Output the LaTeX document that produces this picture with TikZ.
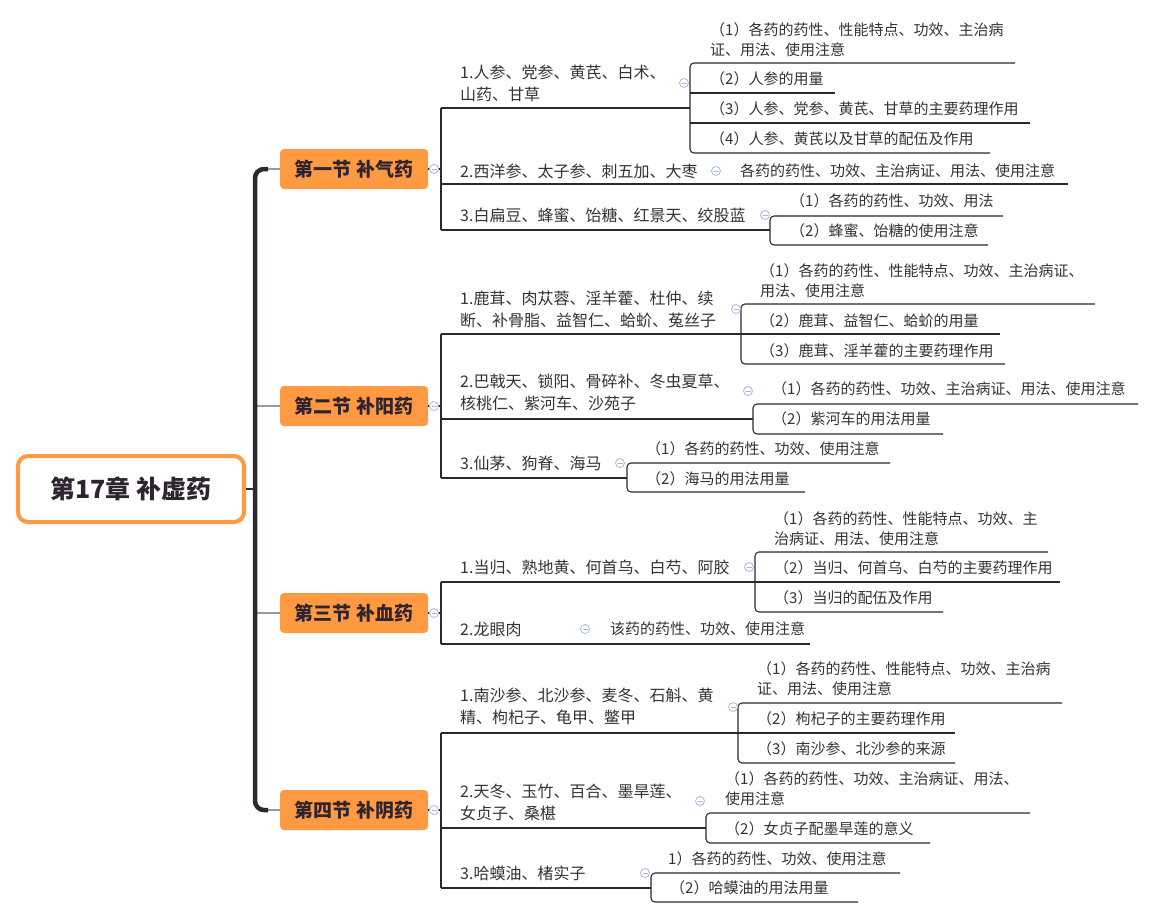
\documentclass[tikz,border=0pt]{standalone}
\usepackage{fontspec}
\newfontfamily\cjk{Noto Sans CJK SC}
\definecolor{orng}{HTML}{FF9A42}
\definecolor{dk}{HTML}{2E2430}
\definecolor{trk}{HTML}{30262F}
\definecolor{stb}{HTML}{9A9A9A}
\definecolor{lc}{HTML}{2A2A2A}
\definecolor{txt}{HTML}{333333}
\definecolor{tg}{HTML}{A9B6DD}
\begin{document}
\begin{tikzpicture}[x=1pt,y=-1pt,
  rootbox/.style={draw=orng,line width=4pt,rounded corners=10pt,fill=white,minimum width=226pt,minimum height=66pt,inner sep=0pt,text=dk,font=\cjk\bfseries\fontsize{25}{30}\selectfont},
  secbox/.style={fill=orng,rounded corners=4pt,minimum width=148pt,minimum height=40pt,inner sep=0pt,text=dk,font=\cjk\bfseries\fontsize{19}{23}\selectfont},
  item/.style={anchor=west,inner sep=0pt,align=left,text=txt,font=\cjk\fontsize{16}{22}\selectfont},
  gci/.style={anchor=west,inner sep=0pt,align=left,text=txt,font=\cjk\fontsize{15}{20}\selectfont},
  ln/.style={draw=lc,line width=1.1pt},
  brk/.style={draw=lc,line width=1.1pt,rounded corners=4pt},
  trunk/.style={draw=trk,line width=4.5pt,rounded corners=9pt},
  stub/.style={draw=stb,line width=2pt},
  tog/.style={circle,draw=tg,fill=white,line width=0.8pt,minimum size=9pt,inner sep=0pt,
    path picture={\draw[tg,line width=0.8pt] ([xshift=2pt]path picture bounding box.west) -- ([xshift=-2pt]path picture bounding box.east);}}
]
\useasboundingbox (0,0) rectangle (1155,919);

% root and sections
\node[rootbox] (root) at (131,489) {第17章 补虚药};
\node[secbox] (s1) at (354,169) {第一节 补气药};
\node[secbox] (s2) at (354,406) {第二节 补阳药};
\node[secbox] (s3) at (354,613) {第三节 补血药};
\node[secbox] (s4) at (354,810) {第四节 补阴药};

\coordinate (tr1) at (255,169);
\coordinate (tr2) at (255,406);
\coordinate (tr3) at (255,613);
\coordinate (tr4) at (255,810);
\coordinate (trr) at (255,489);
\coordinate (tt1) at (268,169);
\coordinate (tt4) at (268,810);

\draw[stub] (tt1) -- (s1.west);
\draw[stub] (tt4) -- (s4.west);
\draw[stub] (tr2) -- (s2.west);
\draw[stub] (tr3) -- (s3.west);
\draw[trunk] (tt1) -- (tr1) -- (tr4) -- (tt4);
\draw[ln] (root.east) -- (trr);

% ===== Section 1 =====
\coordinate (v1t) at (441,108);
\coordinate (v1b) at (441,230);
\coordinate (v1m) at (441,169);
\draw[ln] (s1.east) -- (v1m);
\draw[ln] (v1t) -- (v1b);

\node[item] (c11) at (460,83) {1.人参、党参、黄芪、白术、\\山药、甘草};
\node[item] (c12) at (460,171) {2.西洋参、太子参、刺五加、大枣};
\node[item] (c13) at (460,215) {3.白扁豆、蜂蜜、饴糖、红景天、绞股蓝};

\node[gci] (g111) at (710,39.5) {（1）各药的药性、性能特点、功效、主治病\\证、用法、使用注意};
\node[gci] (g112) at (710,79) {（2）人参的用量};
\node[gci] (g113) at (710,109) {（3）人参、党参、黄芪、甘草的主要药理作用};
\node[gci] (g114) at (710,139) {（4）人参、黄芪以及甘草的配伍及作用};
\node[gci] (g121) at (740,171) {各药的药性、功效、主治病证、用法、使用注意};
\node[gci] (g131) at (790,201) {（1）各药的药性、功效、用法};
\node[gci] (g132) at (790,231) {（2）蜂蜜、饴糖的使用注意};

\coordinate (j11) at (690,108);
\draw[ln] (v1t) -- (j11);
\draw[brk] (1015,63) -- (690,63) -- (690,153) -- (990,153);
\draw[ln] (690,93) -- (835,93);
\draw[ln] (690,123) -- (1030,123);
\draw[ln] (v1m |- 0,184) -- (1068,184);
\coordinate (j13) at (770,230);
\draw[ln] (v1b) -- (j13);
\draw[brk] (1003,216) -- (770,216) -- (770,245) -- (988,245);

\node[tog] (t1) at (434,169) {};
\node[tog] (t11) at (684,83) {};
\node[tog] (t12) at (716,171) {};
\node[tog] (t13) at (765,215) {};

% ===== Section 2 =====
\coordinate (v2t) at (441,334);
\coordinate (v2b) at (441,478);
\coordinate (v2m) at (441,406);
\draw[ln] (s2.east) -- (v2m);
\draw[ln] (v2t) -- (v2b);

\node[item] (c21) at (460,309) {1.鹿茸、肉苁蓉、淫羊藿、杜仲、续\\断、补骨脂、益智仁、蛤蚧、菟丝子};
\node[item] (c22) at (460,392) {2.巴戟天、锁阳、骨碎补、冬虫夏草、\\核桃仁、紫河车、沙苑子};
\node[item] (c23) at (460,463) {3.仙茅、狗脊、海马};

\node[gci] (g211) at (760,281) {（1）各药的药性、性能特点、功效、主治病证、\\用法、使用注意};
\node[gci] (g212) at (760,321) {（2）鹿茸、益智仁、蛤蚧的用量};
\node[gci] (g213) at (760,351) {（3）鹿茸、淫羊藿的主要药理作用};
\node[gci] (g221) at (772,389) {（1）各药的药性、功效、主治病证、用法、使用注意};
\node[gci] (g222) at (772,419) {（2）紫河车的用法用量};
\node[gci] (g231) at (646,449) {（1）各药的药性、功效、使用注意};
\node[gci] (g232) at (646,479) {（2）海马的用法用量};

\coordinate (j21) at (741,334);
\draw[ln] (v2t) -- (1000,334);
\draw[brk] (1095,304) -- (741,304) -- (741,364) -- (1005,364);
\coordinate (j22) at (753,419);
\draw[ln] (441,419) -- (j22);
\draw[brk] (1138,404) -- (753,404) -- (753,434) -- (943,434);
\coordinate (j23) at (627,478);
\draw[ln] (v2b) -- (j23);
\draw[brk] (890,463) -- (627,463) -- (627,492) -- (805,492);

\node[tog] (t2) at (434,406) {};
\node[tog] (t21) at (736,309) {};
\node[tog] (t22) at (748,391) {};
\node[tog] (t23) at (620,463) {};

% ===== Section 3 =====
\coordinate (v3t) at (441,582);
\coordinate (v3b) at (441,644);
\coordinate (v3m) at (441,613);
\draw[ln] (s3.east) -- (v3m);
\draw[ln] (v3t) -- (v3b);

\node[item] (c31) at (460,567) {1.当归、熟地黄、何首乌、白芍、阿胶};
\node[item] (c32) at (460,629) {2.龙眼肉};

\node[gci] (g311) at (774,528.5) {（1）各药的药性、性能特点、功效、主\\治病证、用法、使用注意};
\node[gci] (g312) at (774,568) {（2）当归、何首乌、白芍的主要药理作用};
\node[gci] (g313) at (774,598) {（3）当归的配伍及作用};
\node[gci] (g321) at (610,629) {该药的药性、功效、使用注意};

\draw[ln] (v3t) -- (1060,582);
\draw[brk] (1048,552) -- (755,552) -- (755,612) -- (943,612);
\draw[ln] (v3b) -- (810,644);

\node[tog] (t3) at (434,613) {};
\node[tog] (t31) at (749,567) {};
\node[tog] (t32) at (585,629) {};

% ===== Section 4 =====
\coordinate (v4t) at (441,733);
\coordinate (v4b) at (441,888);
\coordinate (v4m) at (441,810);
\draw[ln] (s4.east) -- (v4m);
\draw[ln] (v4t) -- (v4b);

\node[item] (c41) at (460,706.5) {1.南沙参、北沙参、麦冬、石斛、黄\\精、枸杞子、龟甲、鳖甲};
\node[item] (c42) at (460,802.5) {2.天冬、玉竹、百合、墨旱莲、\\女贞子、桑椹};
\node[item] (c43) at (460,873) {3.哈蟆油、楮实子};

\node[gci] (g411) at (757,679) {（1）各药的药性、性能特点、功效、主治病\\证、用法、使用注意};
\node[gci] (g412) at (757,719) {（2）枸杞子的主要药理作用};
\node[gci] (g413) at (757,749) {（3）南沙参、北沙参的来源};
\node[gci] (g421) at (725,789) {（1）各药的药性、功效、主治病证、用法、\\使用注意};
\node[gci] (g422) at (725,829) {（2）女贞子配墨旱莲的意义};
\node[gci] (g431) at (668,859) {1）各药的药性、功效、使用注意};
\node[gci] (g432) at (670,888) {（2）哈蟆油的用法用量};

\draw[ln] (v4t) -- (955,733);
\draw[brk] (1062,703) -- (738,703) -- (738,763) -- (955,763);
\coordinate (j42) at (706,828);
\draw[ln] (441,828) -- (j42);
\draw[brk] (1030,813) -- (706,813) -- (706,843) -- (930,843);
\coordinate (j43) at (651,888);
\draw[ln] (v4b) -- (j43);
\draw[brk] (900,873) -- (651,873) -- (651,902) -- (858,902);

\node[tog] (t4) at (434,810) {};
\node[tog] (t41) at (733,707) {};
\node[tog] (t42) at (700,801) {};
\node[tog] (t43) at (645,873) {};
\end{tikzpicture}
\end{document}
